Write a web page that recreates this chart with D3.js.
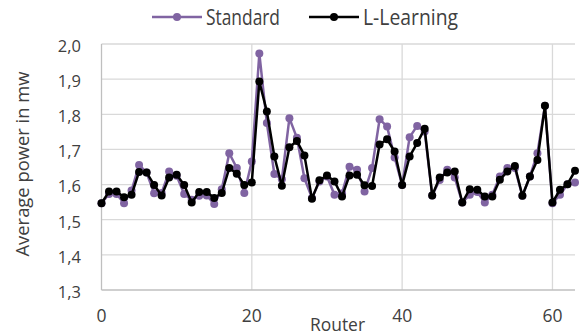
<!DOCTYPE html>
<html><head><meta charset="utf-8">
<script src="https://cdn.jsdelivr.net/npm/d3@7"></script>
<style>body{margin:0;background:#fff}svg{display:block}text{font-family:"Open Sans",sans-serif;fill:#404040}</style>
</head><body><svg id="c" width="582" height="336"></svg>
<script>
const seriesNames = ["Standard", "L-Learning"];
const standard = [1.547,1.573,1.573,1.547,1.583,1.656,1.634,1.575,1.576,1.637,1.625,1.573,1.557,1.568,1.569,1.545,
1.587,1.689,1.647,1.576,1.666,1.973,1.775,1.630,1.615,1.789,1.733,1.618,1.562,1.609,1.623,1.571,
1.575,1.651,1.642,1.580,1.647,1.786,1.765,1.677,1.599,1.735,1.767,1.751,1.569,1.613,1.642,1.620,
1.549,1.571,1.579,1.549,1.571,1.623,1.647,1.647,1.568,1.623,1.689,1.824,1.547,1.571,1.601,1.606];
const lLearning = [1.547,1.580,1.580,1.564,1.571,1.636,1.634,1.599,1.569,1.620,1.628,1.599,1.549,1.579,1.579,1.562,
1.576,1.647,1.631,1.599,1.606,1.893,1.808,1.680,1.597,1.706,1.724,1.683,1.560,1.612,1.626,1.609,
1.566,1.626,1.628,1.598,1.596,1.714,1.729,1.694,1.599,1.680,1.718,1.759,1.569,1.620,1.634,1.637,
1.549,1.587,1.585,1.566,1.566,1.614,1.637,1.653,1.568,1.623,1.670,1.824,1.549,1.585,1.601,1.639];
const xTicks = [0, 20, 40, 60];
const yTicks = [1.3, 1.4, 1.5, 1.6, 1.7, 1.8, 1.9, 2.0];
const colors = ["#8064a2", "#000000"];

const svg = d3.select("#c");
const L = 101.5, R = 575, T = 44, B = 290;
const x = d3.scaleLinear().domain([0, 63]).range([L, R]);
const y = d3.scaleLinear().domain([1.3, 2.0]).range([B, T]);

// gridlines
svg.append("g").selectAll("line").data(yTicks.filter(d => d > 1.3)).join("line")
  .attr("x1", L).attr("x2", R).attr("y1", d => y(d)).attr("y2", d => y(d))
  .attr("stroke", "#d9d9d9").attr("stroke-width", 1.3);
svg.append("g").selectAll("line").data(xTicks.filter(d => d > 0)).join("line")
  .attr("x1", d => x(d)).attr("x2", d => x(d)).attr("y1", T).attr("y2", B)
  .attr("stroke", "#d9d9d9").attr("stroke-width", 1.3);
// axes lines
svg.append("line").attr("x1", L).attr("x2", L).attr("y1", T).attr("y2", B).attr("stroke", "#bfbfbf").attr("stroke-width", 1.3);
svg.append("line").attr("x1", L).attr("x2", R).attr("y1", B).attr("y2", B).attr("stroke", "#bfbfbf").attr("stroke-width", 1.3);

// tick labels
const fmt = d => d3.format(".1f")(d).replace(".", ",");
svg.append("g").selectAll("text").data(yTicks).join("text")
  .attr("x", 81).attr("y", d => y(d) + 3.5).attr("text-anchor", "end").attr("dominant-baseline", "middle")
  .attr("font-size", 16.5).text(fmt);
svg.append("g").selectAll("text").data(xTicks).join("text")
  .attr("x", d => x(d)).attr("y", 317).attr("text-anchor", "middle").attr("dominant-baseline", "middle")
  .attr("font-size", 17.5).text(d => d);

svg.append("text").attr("transform", "translate(28.5,164) rotate(-90)").attr("text-anchor", "middle")
  .attr("font-size", 18).attr("textLength", 185).attr("lengthAdjust", "spacingAndGlyphs")
  .text("Average power in mw");
svg.append("text").attr("x", 310).attr("y", 331).attr("font-size", 18.5)
  .attr("textLength", 55).attr("lengthAdjust", "spacingAndGlyphs").text("Router");

// series
const data = [standard, lLearning];
const line = d3.line().x((d, i) => x(i)).y(d => y(d));
data.forEach((vals, k) => {
  const g = svg.append("g");
  g.append("path").datum(vals).attr("d", line).attr("fill", "none")
    .attr("stroke", colors[k]).attr("stroke-width", 2.5).attr("stroke-linejoin", "round");
  g.selectAll("circle").data(vals).join("circle")
    .attr("cx", (d, i) => x(i)).attr("cy", d => y(d)).attr("r", 4).attr("fill", colors[k]);
});

// legend
const legX = [152, 309];
const legW = [74, 95];
seriesNames.forEach((n, k) => {
  const g = svg.append("g");
  g.append("line").attr("x1", legX[k]).attr("x2", legX[k] + 50).attr("y1", 17).attr("y2", 17)
    .attr("stroke", colors[k]).attr("stroke-width", 2.5);
  g.append("circle").attr("cx", legX[k] + 25).attr("cy", 17).attr("r", 4).attr("fill", colors[k]);
  g.append("text").attr("x", legX[k] + 54).attr("y", 25).attr("font-size", 21)
    .attr("textLength", legW[k]).attr("lengthAdjust", "spacingAndGlyphs").text(n);
});
</script></body></html>
